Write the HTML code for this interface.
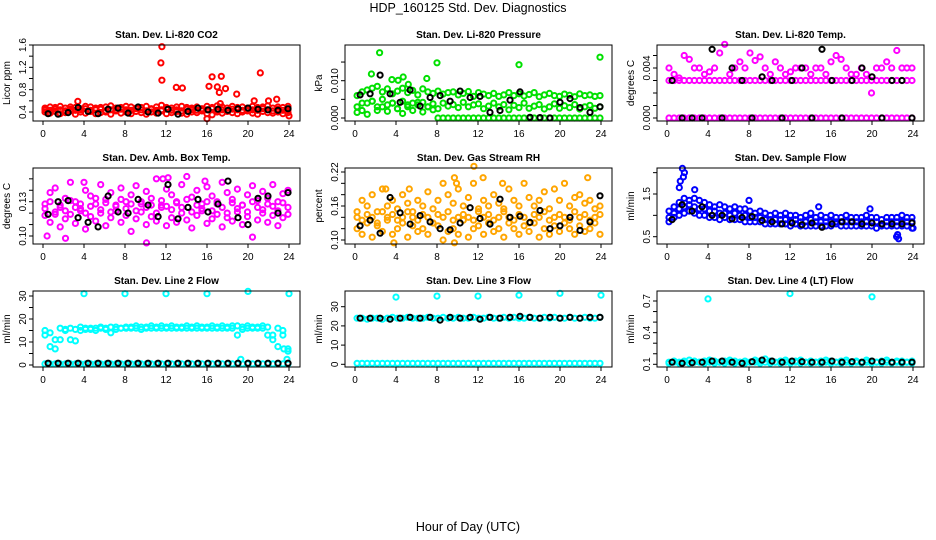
<!DOCTYPE html>
<html><head><meta charset="utf-8"><style>
body{margin:0;background:#fff}
svg{display:block;font-family:"Liberation Sans",sans-serif}
</style></head><body>
<svg id="chart" width="936" height="540" viewBox="0 0 936 540">
<text x="468" y="12" text-anchor="middle" font-size="12.5">HDP_160125  Std. Dev. Diagnostics</text>
<text x="468" y="531" text-anchor="middle" font-size="12.5">Hour of Day (UTC)</text>
</svg>
<script>
// ---- data ----
const co2A=[0.47,0.49,0.48,0.5,0.47,0.49,0.48,0.46,0.5,0.49,0.47,0.48,0.49,0.51,0.47,0.48,0.5,0.49,0.47,0.48,0.5,0.46,0.49,0.52,0.48,0.47,0.49,0.5,0.48,0.47,0.49,0.46,0.5,0.48,0.51,0.49,0.47,0.5,0.48,0.49,0.47,0.5,0.48,0.49,0.51,0.47,0.49,0.48,0.5];
const co2B=[0.4,0.38,0.41,0.37,0.39,0.42,0.36,0.4,0.38,0.41,0.37,0.39,0.4,0.36,0.42,0.38,0.4,0.37,0.41,0.39,0.36,0.4,0.38,0.42,0.37,0.39,0.41,0.38,0.36,0.4,0.39,0.42,0.37,0.35,0.4,0.38,0.41,0.39,0.37,0.4,0.42,0.38,0.36,0.41,0.39,0.38,0.4,0.37,0.39];
const co2C=[0.44,0.43,0.45,0.44,0.42,0.45,0.43,0.44,0.46,0.43,0.44,0.45,0.42,0.44,0.43,0.45,0.44,0.43,0.46,0.44,0.42,0.45,0.43,0.44,0.45,0.43,0.44,0.42,0.45,0.44,0.43,0.45,0.44,0.46,0.43,0.44,0.42,0.45,0.44,0.43,0.45,0.44,0.43,0.46,0.44,0.42,0.45,0.43,0.44];
const co2Black=[0.37,0.36,0.39,0.48,0.41,0.37,0.45,0.47,0.38,0.49,0.4,0.38,0.45,0.36,0.41,0.47,0.44,0.45,0.43,0.46,0.47,0.45,0.44,0.43,0.46];
const co2Out=[[11.6,1.57],[11.5,1.28],[11.6,0.97],[13,0.84],[13.6,0.83],[16.2,0.86],[16.5,1.03],[17,0.85],[17.2,0.75],[17.4,1.04],[17.8,0.82],[18.9,0.72],[21.2,1.1],[20.6,0.6],[22,0.6],[22.8,0.63],[3.4,0.59],[16,0.28],[17.3,0.55],[24,0.33]];

const presA=[0.006,0.007,0.0075,0.008,0.0085,0.007,0.0078,0.0065,0.0072,0.008,0.0068,0.0074,0.0062,0.0078,0.007,0.0066,0.0072,0.0064,0.0068,0.007,0.0062,0.0066,0.0071,0.0058,0.0068,0.0064,0.006,0.0066,0.0058,0.0062,0.0068,0.006,0.0065,0.0059,0.0063,0.0068,0.0057,0.0062,0.0066,0.006,0.0058,0.0064,0.0061,0.0057,0.0065,0.006,0.0062,0.0058,0.006];
const presB=[0.003,0.002,0.004,0.0045,0.003,0.005,0.0035,0.004,0.0025,0.0045,0.003,0.004,0.0035,0.0042,0.003,0.0038,0.0025,0.004,0.0032,0.0036,0.0028,0.0042,0.003,0.0035,0.0038,0.0025,0.0032,0.004,0.003,0.0036,0.0022,0.0034,0.0028,0.004,0.0026,0.0032,0.0036,0.0024,0.003,0.0038,0.0026,0.0033,0.0028,0.0036,0.0024,0.003,0.0034,0.0026,0.003];
const presC=[0.0015,0.004,0.001,0.0045,0.002,0.003,0.0018,0.004,0.0025,0.0012,0.0035,0.002,0.0042,0.0016,0.003,0.0022,0,0,0,0,0,0,0,0,0,0,0,0,0,0,0,0,0,0,0,0,0,0,0,0,0,0,0,0,0,0,0,0,0];
const presBlack=[0.0062,0.0065,0.0115,0.0065,0.0042,0.0075,0.0032,0.0055,0.006,0.0045,0.0072,0.0055,0.0058,0.0015,0.002,0.0048,0.007,0.0002,0.0001,0,0.0042,0.0052,0.0028,0.0015,0.003];
const presOut=[[2.4,0.0175],[8,0.0148],[16,0.0143],[23.9,0.0163],[1.6,0.0118],[3.6,0.0103],[4.2,0.0101],[4.7,0.011],[7,0.0106],[5.2,0.009]];

const tempA=[0.003,0.003,0.003,0.003,0.003,0.003,0.003,0.003,0.003,0.003,0.003,0.003,0.003,0.003,0.003,0.003,0.003,0.003,0.003,0.003,0.003,0.003,0.003,0.003,0.003,0.003,0.003,0.003,0.003,0.003,0.003,0.003,0.003,0.003,0.003,0.003,0.003,0.003,0.003,0.003,0.003,0.003,0.003,0.003,0.003,0.003,0.003,0.003,0.003];
const tempB=[0,0,0,0,0,0,0,0,0,0,0,0,0,0,0,0,0,0,0,0,0,0,0,0,0,0,0,0,0,0,0,0,0,0,0,0,0,0,0,0,0,0,0,0,0,0,0,0,0];
const tempC=[0.004,0.0035,0.0032,0.005,0.0047,0.004,0.004,0.0035,0.0037,0.004,0.0052,0.0059,0.0035,0.004,0.0045,0.004,0.0052,0.0046,0.0049,0.004,0.0035,0.0045,0.004,0.0035,0.0037,0.004,0.004,0.004,0.0035,0.004,0.004,0.0035,0.0045,0.005,0.0047,0.004,0.0035,0.0035,0.004,0.0035,0.002,0.004,0.004,0.0045,0.004,0.0054,0.004,0.004,0.004];
const tempBlack=[0.003,0,0,0,0.0055,0,0.004,0.003,0,0.0033,0.003,0,0.003,0.004,0,0.0055,0.003,0,0.003,0.004,0.0033,0,0.003,0.003,0];

const boxA=[0.128,0.138,0.142,0.125,0.133,0.147,0.13,0.122,0.14,0.135,0.128,0.145,0.132,0.138,0.126,0.142,0.13,0.136,0.144,0.128,0.139,0.133,0.15,0.127,0.141,0.136,0.13,0.145,0.152,0.134,0.14,0.128,0.143,0.135,0.13,0.147,0.138,0.132,0.141,0.127,0.136,0.144,0.131,0.139,0.133,0.145,0.13,0.137,0.14];
const boxB=[0.118,0.112,0.121,0.108,0.115,0.119,0.111,0.124,0.106,0.117,0.113,0.12,0.109,0.116,0.122,0.112,0.118,0.104,0.115,0.121,0.11,0.117,0.113,0.125,0.109,0.116,0.112,0.12,0.114,0.107,0.118,0.122,0.111,0.115,0.119,0.108,0.116,0.113,0.121,0.11,0.117,0.099,0.114,0.12,0.112,0.118,0.109,0.116,0.119];
const boxC=[0.124,0.13,0.119,0.127,0.122,0.131,0.125,0.128,0.12,0.126,0.133,0.123,0.129,0.121,0.127,0.132,0.124,0.128,0.122,0.13,0.125,0.127,0.12,0.131,0.126,0.123,0.129,0.125,0.132,0.121,0.127,0.124,0.13,0.122,0.128,0.125,0.12,0.129,0.124,0.127,0.121,0.13,0.125,0.123,0.128,0.126,0.122,0.129,0.125];
const boxBlack=[0.119,0.13,0.131,0.116,0.112,0.108,0.135,0.121,0.12,0.132,0.127,0.117,0.145,0.115,0.125,0.132,0.121,0.128,0.148,0.116,0.11,0.133,0.135,0.12,0.138];
const boxOut=[[11.7,0.15],[12.2,0.151],[2.2,0.098],[0.4,0.1],[10.1,0.094],[15.8,0.148],[4,0.147]];

const rhA=[0.15,0.17,0.16,0.18,0.15,0.19,0.16,0.17,0.155,0.18,0.165,0.15,0.17,0.16,0.185,0.155,0.17,0.2,0.18,0.165,0.19,0.16,0.175,0.2,0.155,0.17,0.16,0.18,0.165,0.155,0.19,0.17,0.16,0.2,0.175,0.16,0.17,0.185,0.155,0.19,0.17,0.2,0.16,0.175,0.18,0.165,0.17,0.155,0.16];
const rhB=[0.12,0.11,0.13,0.105,0.125,0.115,0.135,0.11,0.12,0.13,0.105,0.125,0.115,0.12,0.11,0.13,0.125,0.1,0.115,0.12,0.11,0.135,0.105,0.12,0.125,0.11,0.13,0.115,0.12,0.105,0.13,0.12,0.11,0.125,0.115,0.13,0.105,0.12,0.11,0.125,0.115,0.13,0.12,0.11,0.125,0.115,0.12,0.13,0.11];
const rhC=[0.14,0.135,0.145,0.14,0.13,0.15,0.14,0.145,0.135,0.14,0.15,0.14,0.135,0.145,0.14,0.13,0.145,0.14,0.15,0.135,0.14,0.145,0.14,0.135,0.15,0.14,0.145,0.135,0.14,0.15,0.14,0.135,0.145,0.14,0.13,0.145,0.14,0.15,0.135,0.14,0.145,0.14,0.135,0.15,0.14,0.145,0.135,0.14,0.145];
const rhBlack=[0.125,0.135,0.112,0.175,0.148,0.128,0.143,0.132,0.12,0.118,0.13,0.157,0.138,0.128,0.172,0.14,0.142,0.131,0.152,0.12,0.125,0.14,0.117,0.132,0.178];
const rhOut=[[9.7,0.21],[9.9,0.2],[11.6,0.23],[12.5,0.21],[14.4,0.2],[22.7,0.21],[3,0.19],[5.3,0.19],[3.8,0.095],[9.7,0.095]];

const flowA=[1.1,1.2,1.3,1.4,1.35,1.4,1.35,1.3,1.25,1.2,1.25,1.2,1.15,1.2,1.15,1.15,1.1,1.05,1.1,1.05,1.0,1.05,1.0,1.05,1.0,1.0,0.95,1.0,1.05,0.95,1.0,0.95,1.0,0.95,0.95,1.0,0.95,0.95,0.95,1.0,0.95,0.95,0.9,0.95,0.95,0.95,1.0,0.95,0.95];
const flowB=[0.85,0.95,1.0,1.05,1.1,1.05,1.0,1.0,0.95,0.95,0.9,0.95,0.9,0.9,0.9,0.85,0.85,0.85,0.85,0.8,0.8,0.8,0.8,0.8,0.75,0.8,0.75,0.75,0.75,0.75,0.75,0.75,0.75,0.8,0.75,0.75,0.75,0.75,0.75,0.75,0.75,0.7,0.75,0.75,0.75,0.75,0.75,0.75,0.7];
const flowC=[0.95,1.05,1.15,1.2,1.25,1.2,1.15,1.15,1.1,1.1,1.05,1.05,1.0,1.05,1.0,1.0,0.95,0.95,0.95,0.9,0.9,0.9,0.9,0.9,0.85,0.9,0.85,0.85,0.9,0.85,0.85,0.85,0.85,0.85,0.85,0.85,0.85,0.85,0.85,0.85,0.85,0.85,0.8,0.85,0.85,0.85,0.85,0.85,0.85];
const flowBlack=[0.9,1.25,1.1,1.2,1.0,1.0,0.92,0.95,0.97,0.88,0.85,0.8,0.82,0.78,0.82,0.72,0.8,0.85,0.85,0.8,0.82,0.8,0.8,0.8,0.82];
const flowOut=[[1.5,2.1],[1.7,2.0],[1.3,1.8],[1.2,1.65],[2.7,1.6],[1.6,1.9],[8,1.35],[19.8,1.15],[22.5,0.55],[22.4,0.5],[22.6,0.45],[24,0.7],[14.8,1.2]];

const l2A=[15,14,11,16,15.5,16,15.5,16.5,16,15.5,16,16.5,16,16.5,16.5,16,16.5,16.5,17,16.5,16.5,17,16.5,17,16.5,17,16.5,16.5,17,16.5,17,16.5,16.5,17,16.5,17,16.5,17,17,16.5,17,16.5,16.5,17,16.5,13,16,15,7];
const l2B=[13,8,7,11,15,11,10.5,15,15.5,16,15,16,15.5,14,15.5,16,16,16,16,15.5,16,16,16,16,16,16,16,16,16,16,16,16,16,16,16,16,16,16,13,15.5,16,16,16,16,13,11,8,13,6];
const l2C=[0.5,0.5,0.5,0.5,0.5,0.5,0.5,0.5,0.5,0.5,0.5,0.5,0.5,0.5,0.5,0.5,0.5,0.5,0.5,0.5,0.5,0.5,0.5,0.5,0.5,0.5,0.5,0.5,0.5,0.5,0.5,0.5,0.5,0.5,0.5,0.5,0.5,0.5,0.5,0.5,0.5,0.5,0.5,0.5,0.5,0.5,0.5,0.5,0.5];
const l2Black=[0.8,0.8,0.8,0.8,0.8,0.8,0.8,0.8,0.8,0.8,0.8,0.8,0.8,0.8,0.8,0.8,0.8,0.8,0.8,0.8,0.8,0.8,0.8,0.8,0.8];
const l2Out=[[4,31],[8,31],[12,31],[16,31],[20,32],[24,31],[19.3,2.5],[23.8,2.5],[23.5,7]];

const l3A=[24,24,23.5,24,24,23.5,24,24.5,24,24,24.5,24,24,24,24.5,24,24,24.5,24,24,24.5,24,24,24.5,24,24,24.5,24,24,24.5,24,24.5,24,24,24.5,24,24,24.5,24,24.5,24,24,24.5,24,24,24.5,24,24,24.5];
const l3B=[0.5,0.5,0.5,0.5,0.5,0.5,0.5,0.5,0.5,0.5,0.5,0.5,0.5,0.5,0.5,0.5,0.5,0.5,0.5,0.5,0.5,0.5,0.5,0.5,0.5,0.5,0.5,0.5,0.5,0.5,0.5,0.5,0.5,0.5,0.5,0.5,0.5,0.5,0.5,0.5,0.5,0.5,0.5,0.5,0.5,0.5,0.5,0.5,0.5];
const l3Black=[24,24,24,23.5,24,24.5,24,24.5,23,24.5,24,24.5,23.5,24.5,24,24.5,25,24.5,24,24.5,24,24.5,24,24.5,24.5];
const l3Out=[[4,35],[8,35.5],[12,35.5],[16,36],[20,37],[24,36]];

const l4A=[0.12,0.13,0.12,0.13,0.14,0.13,0.12,0.13,0.14,0.13,0.12,0.13,0.14,0.13,0.12,0.13,0.12,0.14,0.13,0.15,0.13,0.12,0.13,0.14,0.12,0.13,0.14,0.12,0.13,0.12,0.13,0.14,0.13,0.12,0.13,0.14,0.12,0.13,0.12,0.14,0.13,0.12,0.13,0.14,0.12,0.13,0.13,0.12,0.13];
const l4B=[0.11,0.12,0.11,0.12,0.11,0.12,0.12,0.11,0.12,0.11,0.12,0.11,0.12,0.11,0.12,0.11,0.12,0.12,0.11,0.12,0.11,0.12,0.11,0.12,0.11,0.12,0.11,0.12,0.11,0.12,0.11,0.12,0.11,0.12,0.11,0.12,0.11,0.12,0.11,0.12,0.11,0.12,0.11,0.12,0.11,0.12,0.11,0.12,0.11];
const l4Black=[0.12,0.11,0.115,0.12,0.13,0.13,0.12,0.11,0.125,0.14,0.13,0.12,0.13,0.125,0.12,0.12,0.13,0.12,0.125,0.12,0.13,0.125,0.12,0.12,0.12];
const l4Out=[[4,0.72],[12,0.77],[20,0.74]];

const panelTitles=["Stan. Dev. Li-820 CO2","Stan. Dev. Li-820 Pressure","Stan. Dev. Li-820 Temp.","Stan. Dev. Amb. Box Temp.","Stan. Dev. Gas Stream RH","Stan. Dev. Sample Flow","Stan. Dev. Line 2 Flow","Stan. Dev. Line 3 Flow","Stan. Dev. Line 4 (LT) Flow"];
const yTitles=["Licor ppm","kPa","degrees C","degrees C","percent","ml/min","ml/min","ml/min","ml/min"];
const xTicks=[0,4,8,12,16,20,24];

// ---- layout / styles ----
const panels=[
 {col:0,row:0,va:0.4,pa:112,vb:1.6,pb:45,ticks:[0.4,0.6,0.8,1.0,1.2,1.4,1.6],labs:["0.4","0.8","1.2","1.6"],lv:[0.4,0.8,1.2,1.6],color:"#ff0000",series:[co2A,co2B,co2C],black:co2Black,out:co2Out},
 {col:1,row:0,va:0,pa:118,vb:0.01,pb:80.7,ticks:[0,0.005,0.01,0.015],labs:["0.000","0.010"],lv:[0,0.01],color:"#00e000",series:[presA,presB,presC],black:presBlack,out:presOut},
 {col:2,row:0,va:0,pa:118,vb:0.004,pb:68,ticks:[0,0.001,0.002,0.003,0.004,0.005,0.006],labs:["0.000","0.004"],lv:[0,0.004],color:"#ff00ff",series:[tempA,tempB,tempC],black:tempBlack,out:[]},
 {col:0,row:1,va:0.10,pa:236,vb:0.13,pb:201.7,ticks:[0.10,0.11,0.12,0.13,0.14,0.15],labs:["0.10","0.13"],lv:[0.10,0.13],color:"#ff00ff",series:[boxA,boxB,boxC],black:boxBlack,out:boxOut},
 {col:1,row:1,va:0.10,pa:240,vb:0.22,pb:172,ticks:[0.10,0.12,0.14,0.16,0.18,0.20,0.22],labs:["0.10","0.16","0.22"],lv:[0.10,0.16,0.22],color:"#ffa500",series:[rhA,rhB,rhC],black:rhBlack,out:rhOut},
 {col:2,row:1,va:0.5,pa:236.7,vb:1.5,pb:194,ticks:[0.5,1.0,1.5,2.0],labs:["0.5","1.5"],lv:[0.5,1.5],color:"#0000ff",series:[flowA,flowB,flowC],black:flowBlack,out:flowOut},
 {col:0,row:2,va:0,pa:365,vb:30,pb:296,ticks:[0,5,10,15,20,25,30],labs:["0","10","20","30"],lv:[0,10,20,30],color:"#00ffff",series:[l2A,l2B,l2C],black:l2Black,out:l2Out},
 {col:1,row:2,va:0,pa:364.3,vb:30,pb:306.7,ticks:[0,10,20,30],labs:["0","10","20","30"],lv:[0,10,20,30],color:"#00ffff",series:[l3A,l3B],black:l3Black,out:l3Out},
 {col:2,row:2,va:0.1,pa:364.3,vb:0.7,pb:301,ticks:[0.1,0.2,0.3,0.4,0.5,0.6,0.7],labs:["0.1","0.4","0.7"],lv:[0.1,0.4,0.7],color:"#00ffff",series:[l4A,l4B],black:l4Black,out:l4Out}
];
const colLeft=[33,345,657], rowTop=[45,168,291], BW=267, BH=76;
const NS="http://www.w3.org/2000/svg";
const svg=document.getElementById('chart');
function mk(tag,attrs,parent){const e=document.createElementNS(NS,tag);for(const k in attrs)e.setAttribute(k,attrs[k]);parent.appendChild(e);return e;}

panels.forEach((p,i)=>{
  const L=colLeft[p.col], T=rowTop[p.row];
  const xs=h=>L+10+h*246/24;
  const ys=v=>p.pa+(v-p.va)*(p.pb-p.pa)/(p.vb-p.va);
  const g=mk('g',{},svg);
  
  
  const t=mk('text',{x:L+BW/2,y:T-7,'text-anchor':'middle','font-size':'10','font-weight':'bold'},g);
  t.textContent=panelTitles[i];
  
  
  const yt=mk('text',{x:0,y:0,'text-anchor':'middle','font-size':'10',transform:`translate(${L-23},${T+BH/2}) rotate(-90)`},g);
  yt.textContent=yTitles[i];
  
  
  const pts=mk('g',{fill:'none','stroke-width':'2'},g);
  
  
  const dot=(h,v,c)=>{const y=ys(v);if(y<T-4||y>T+BH+4)return;const e=mk('circle',{cx:xs(h).toFixed(1),cy:y.toFixed(1),r:'2.6',stroke:c},pts);
    
    };
  p.series.forEach(s=>s.forEach((v,k)=>dot(0.2+k*23.7/(s.length-1),v,p.color)));
  p.out.forEach(o=>dot(o[0],o[1],p.color));
  p.black.forEach((v,k)=>dot(0.5+k*23.4/(p.black.length-1),v,'#000'));
  const b=mk('rect',{x:L,y:T,width:BW,height:BH,fill:'none',stroke:'#000','stroke-width':'1'},g);
  
  
  const xa=mk('g',{},g);
  
  
  xTicks.forEach(h=>{mk('line',{x1:xs(h),x2:xs(h),y1:T+BH,y2:T+BH+4,stroke:'#000'},xa);
    const tx=mk('text',{x:xs(h),y:T+BH+16,'text-anchor':'middle','font-size':'10'},xa);tx.textContent=String(h);
    
    });
  const ya=mk('g',{},g);
  
  
  p.ticks.forEach(v=>{const y=ys(v);if(y<T-1)return;mk('line',{x1:L,x2:L-4,y1:y,y2:y,stroke:'#000'},ya);});
  p.lv.forEach((v,k)=>{const y=ys(v);const tx=mk('text',{x:0,y:0,'text-anchor':'middle','font-size':'10',transform:`translate(${L-7},${y}) rotate(-90)`},ya);tx.textContent=p.labs[k];
    
    });
});
</script>
</body></html>
